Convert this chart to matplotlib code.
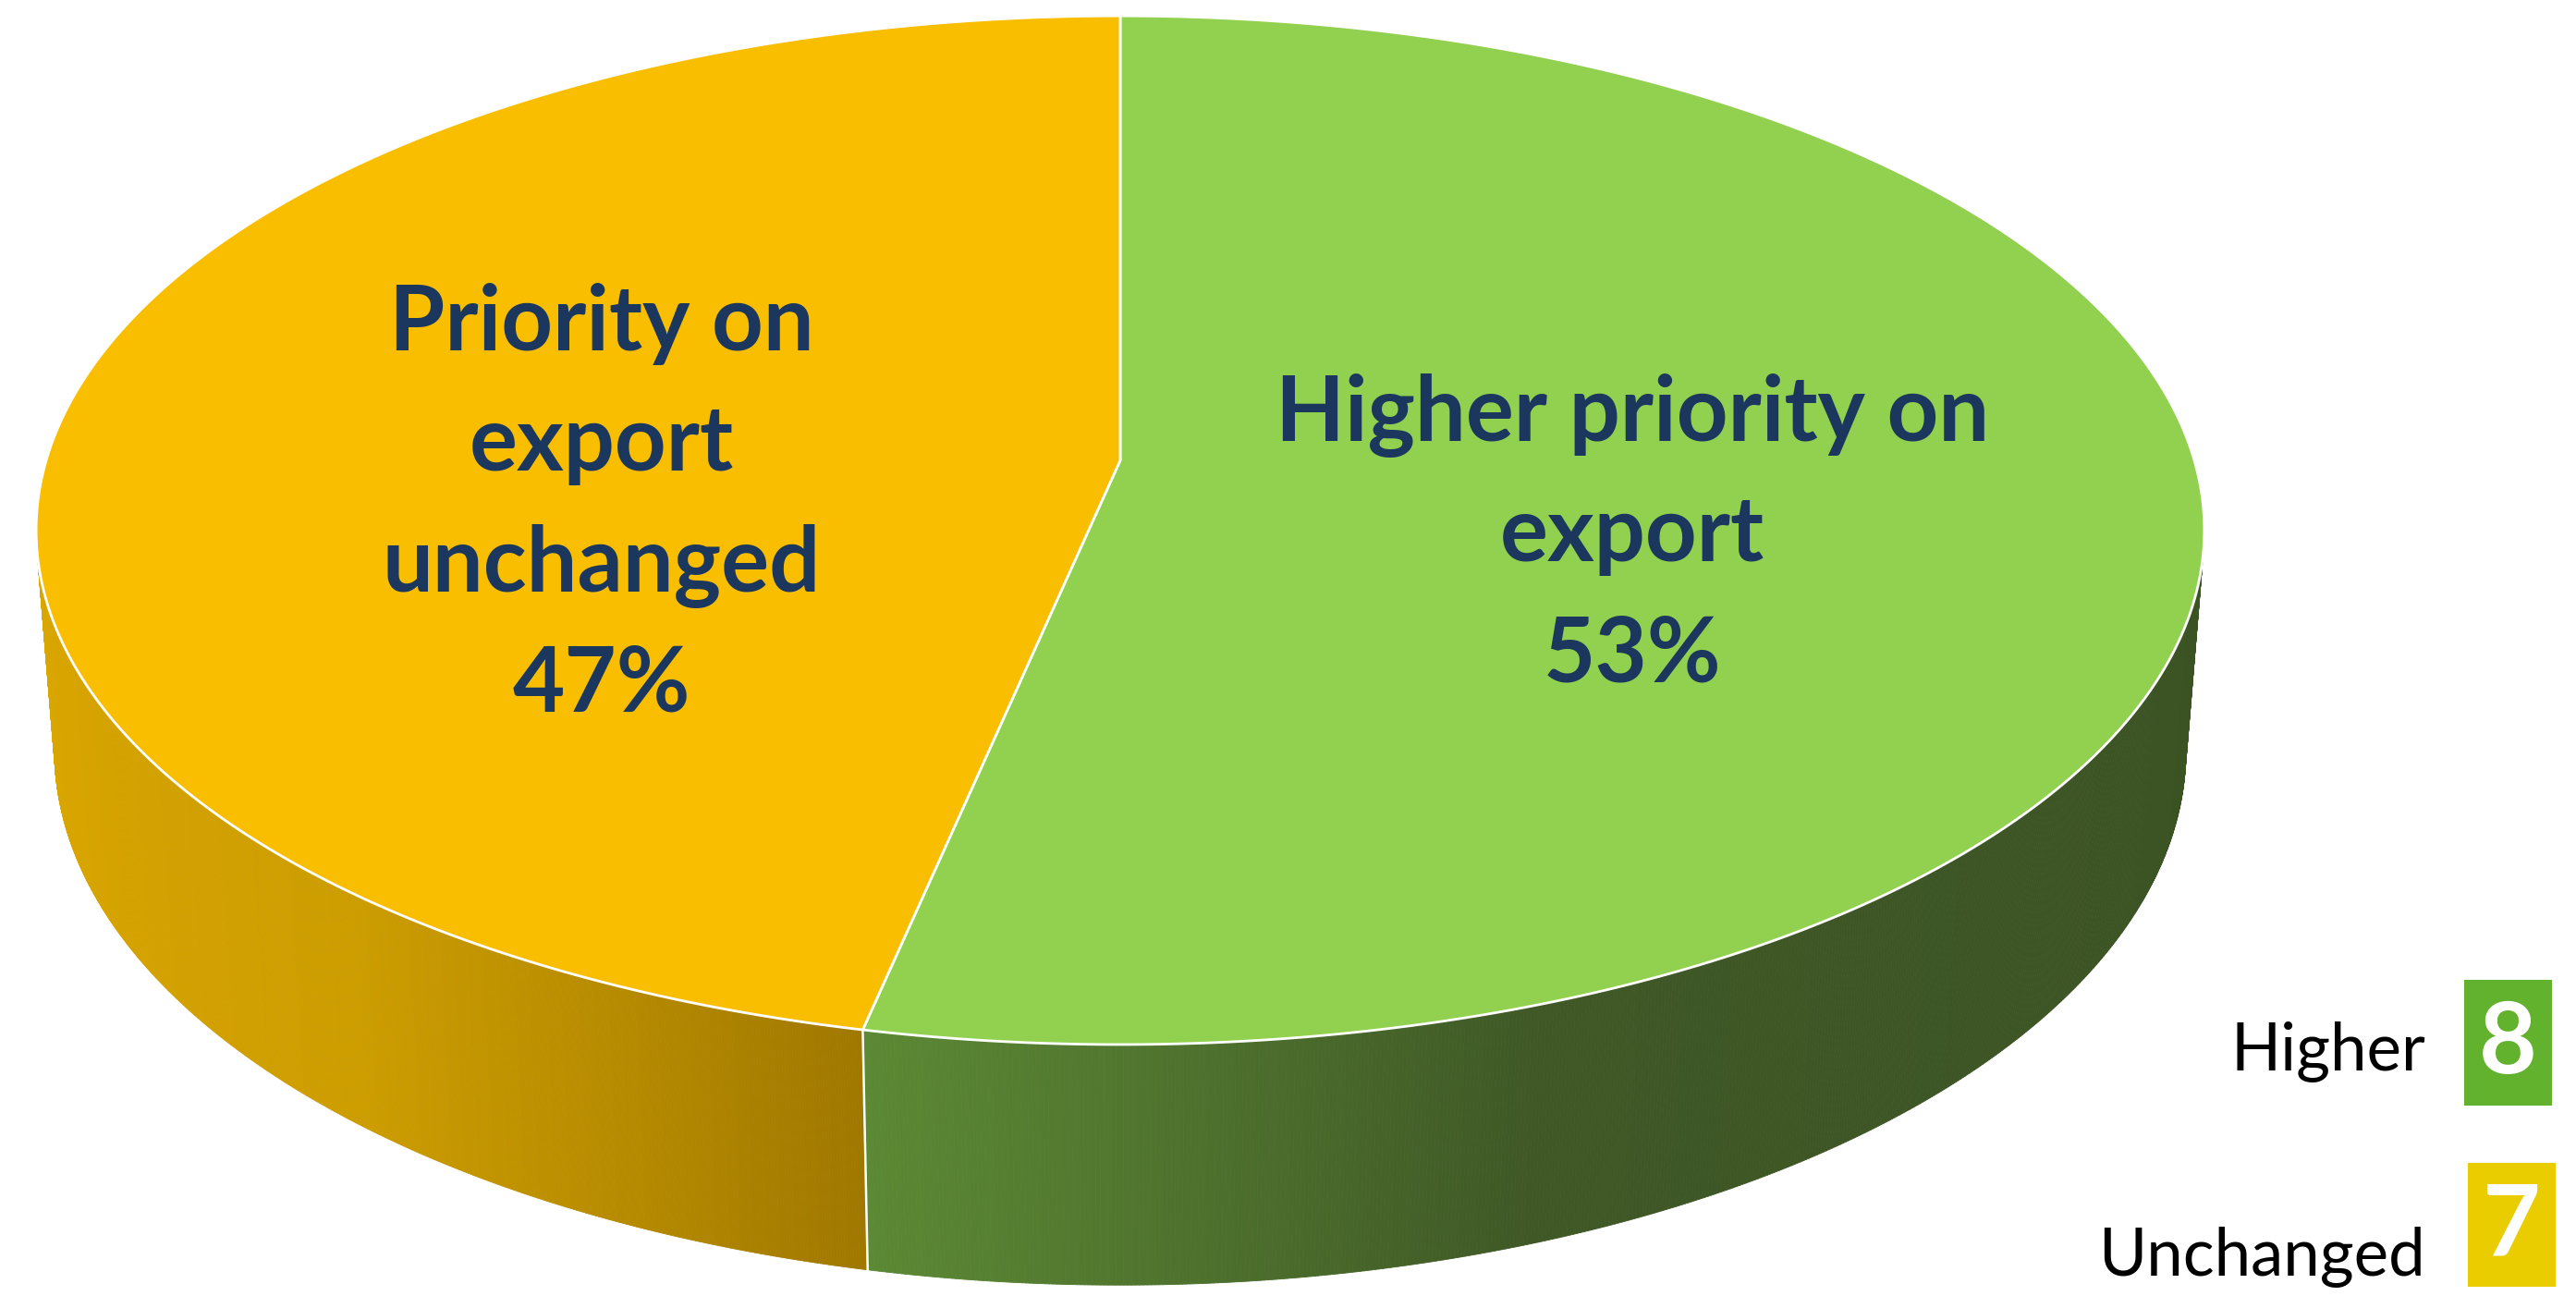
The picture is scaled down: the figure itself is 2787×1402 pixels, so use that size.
import numpy as np
import matplotlib
matplotlib.use('Agg')
import matplotlib.pyplot as plt
from matplotlib.patches import Polygon, Rectangle
from matplotlib.collections import PolyCollection
from matplotlib.colors import to_rgb

plt.rcParams['font.family'] = ['Lato', 'DejaVu Sans']

# data
categories = ['Higher', 'Unchanged']
counts = [8, 7]
slice_names = [['Higher priority on', 'export'],
               ['Priority on', 'export', 'unchanged']]

top_colors = ['#92D050', '#F9BE00']
key_colors = ['#63B22E', '#EACD00']
# side shading stops (angle in degrees, colour) per slice
side_stops = [
    [(258, '#5C8934'), (290, '#3F5826'), (350, '#3B5223')],
    [(190, '#DBA700'), (230, '#CD9D00'), (245, '#B88C00'), (258, '#A07800')],
]
text_color = '#1B375E'

# ---- 3D pie projection (pixel space) ----
CX, CY = 1212, 498          # apex of the pie on screen
SCALE = 1162                # radius in px
SIN_T = 0.47                # tilt of the pie
COS_T = np.sqrt(1 - SIN_T**2)
DIST = 6.5                  # camera distance (in radii)
THICK = 0.234               # pie thickness (in radii)


def proj(X, Y, Z):
    v = Y * SIN_T + Z * COS_T
    d = Y * COS_T - Z * SIN_T
    f = DIST / (DIST + d)
    return CX + SCALE * X * f, CY - SCALE * v * f


def rim(a0, a1, z, n=400):
    th = np.radians(np.linspace(a0, a1, n))
    return proj(np.cos(th), np.sin(th), z)


fig = plt.figure(figsize=(27.87, 14.02), dpi=100)
ax = fig.add_axes([0, 0, 1, 1])
ax.set_xlim(0, 2787)
ax.set_ylim(1402, 0)
ax.axis('off')

total = sum(counts)
shares = np.array(counts) / total * 360
ends = 90 - np.cumsum(shares)
starts = ends + shares

# visible part of the outer wall
vis = np.degrees(np.arcsin(1 / (DIST * COS_T)))
vis_lo, vis_hi = 180 + vis, 360 - vis

for i in range(len(counts)):
    lo, hi = ends[i], starts[i]
    while hi < vis_lo:
        lo += 360
        hi += 360
    a0, a1 = max(lo, vis_lo), min(hi, vis_hi)
    if a1 <= a0:
        continue
    angs = np.linspace(a0, a1, 500)
    stop_a = [s[0] for s in side_stops[i]]
    stop_c = np.array([to_rgb(s[1]) for s in side_stops[i]])
    quads, cols = [], []
    for a, b in zip(angs[:-1], angs[1:]):
        xt, yt = rim(a, b, 0, 2)
        xb, yb = rim(a, b, -THICK, 2)
        quads.append([(xt[0], yt[0]), (xt[1], yt[1]), (xb[1], yb[1]), (xb[0], yb[0])])
        m = (a + b) / 2
        cols.append([np.interp(m, stop_a, stop_c[:, k]) for k in range(3)])
    ax.add_collection(PolyCollection(quads, facecolors=cols, edgecolors=cols,
                                     linewidths=0.6, zorder=1))

# white seam on the wall where the slices meet
for e in ends:
    a = e % 360
    if vis_lo < a < vis_hi:
        x0, y0 = rim(a, a, 0, 2)
        x1, y1 = rim(a, a, -THICK, 2)
        ax.plot([x0[0], x1[0]], [y0[0], y1[0]], color='white', lw=1.8, zorder=1.5)

# top faces
ax0, ay0 = proj(0, 0, 0)
for i in range(len(counts)):
    xs, ys = rim(ends[i], starts[i], 0, 600)
    pts = np.column_stack([np.r_[ax0, xs], np.r_[ay0, ys]])
    ax.add_patch(Polygon(pts, closed=True, facecolor=top_colors[i],
                         edgecolor='white', lw=2, zorder=2))

# slice labels
label_pos = [(1766, [477, 607, 738]), (651, [379, 509, 640, 770])]
for i in range(len(counts)):
    pct = f'{round(100 * counts[i] / total)}%'
    lines = slice_names[i] + [pct]
    x, ys = label_pos[i]
    for s, y in zip(lines, ys):
        ax.text(x, y, s, ha='center', va='baseline', fontsize=70,
                fontweight='bold', color=text_color, zorder=3)

# key on the right
key_rows = [(1060, 1196, 2666, 1158), (1258, 1392, 2670, 1380)]
for i, (y0, y1, bx, base) in enumerate(key_rows):
    ax.add_patch(Rectangle((bx, y0), 95, y1 - y0, facecolor=key_colors[i],
                           edgecolor='none', zorder=3))
    ax.text(bx + 47.5, (y0 + y1) / 2 + 2, str(counts[i]), ha='center', va='center',
            fontsize=78, fontweight='bold', color='white', zorder=4)
    ax.text(2624, base, categories[i], ha='right', va='baseline',
            fontsize=51, color='black', zorder=4)

plt.savefig('out.png', dpi=100, facecolor='white')
